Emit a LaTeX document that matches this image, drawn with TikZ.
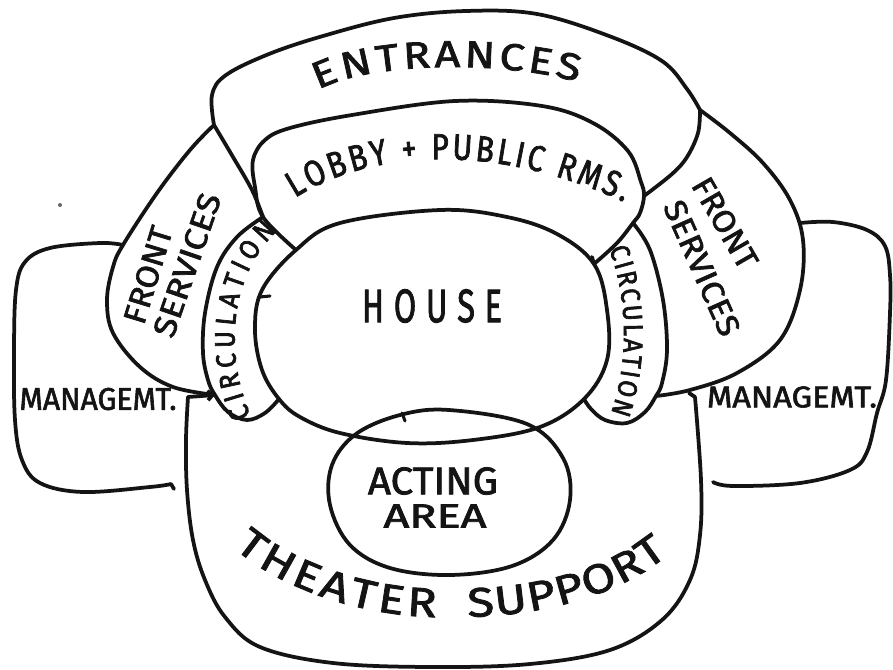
\documentclass[tikz,border=0pt]{standalone}
\usepackage{fontspec}
\usepackage{graphicx}
\usetikzlibrary{decorations.text,arrows.meta}
\newfontfamily\hand{Fira Sans}[FakeBold=2]
\newfontfamily\handw{Fira Sans}[FakeStretch=1.2,FakeBold=2]
\newfontfamily\handn{Fira Sans}[FakeStretch=0.82,FakeBold=2]
\newfontfamily\handc{Fira Sans}[FakeStretch=0.9,FakeBold=2.5]
\newlength\pxu
\setlength\pxu{0.03cm}
% label scaled to an exact width and cap height (in sketch pixels)
\newcommand\fitlbl[3]{\resizebox{#1\pxu}{#2\pxu}{\hand #3}}

\begin{document}
\begin{tikzpicture}[x=0.03cm,y=-0.03cm,
  pen/.style={line width=3.2pt,line cap=round,line join=round,draw=black!92},
  thinpen/.style={line width=2.6pt,line cap=round,draw=black!92},
  lbl/.style={inner sep=0pt,text=black!92},
  curved/.style={decorate,decoration={text along path,text align={fit to path},text color=black!92}}]
\fill[white] (0,0) rectangle (893,670);
\useasboundingbox (0,0) rectangle (893,670);

% junction points shared by neighbouring zones
\coordinate (EL) at (214,125);
\coordinate (ER) at (700,110);
\coordinate (J1) at (263,217);
\coordinate (J2) at (644,196);
\coordinate (J3) at (633,223);
\coordinate (HL) at (296,250);
\coordinate (HR) at (594,264);
\coordinate (CLB) at (279,399);
\coordinate (CRB) at (584,399);
\coordinate (FSL) at (215,395);
\coordinate (FSR) at (656,396);
\coordinate (ML) at (123,245);
\coordinate (TSL) at (188,397);
\coordinate (TSR) at (695,397);

% house
\draw[pen] plot[smooth cycle,tension=0.6] coordinates {(440,210) (507,217) (557,234) (HR) (607,310) (607,360) (CRB) (540,427) (473,440) (407,443) (340,433) (300,417) (CLB) (262,370) (255,330) (262,290) (HL) (340,223)};
\draw[thinpen] (260,297) -- (270,296);

% acting area
\draw[pen] plot[smooth cycle,tension=0.6] coordinates {(449,410) (527,424) (563,458) (570,500) (553,540) (512,566) (450,575) (390,568) (350,545) (330,505) (332,465) (356,434) (400,415)};
\draw[thinpen] (402,413) -- (405,421);

% entrances
\draw[pen] plot[smooth,tension=0.6] coordinates {(EL) (212,95) (226,75) (269,54) (323,36) (394,18) (466,11) (537,14) (609,36) (662,61) (687,89) (ER)};
\draw[pen] plot[smooth,tension=0.6] coordinates {(EL) (233,157) (252,190) (J1)};
\draw[pen] plot[smooth,tension=0.6] coordinates {(ER) (698,133) (687,157) (672,174) (J2)};

% lobby + public rooms
\draw[pen] plot[smooth,tension=0.6] coordinates {(HL) (J1) (255,187) (253,160) (265,140) (290,128) (352,115) (455,101) (542,106) (593,123) (628,151) (641,182) (J2) (640,213) (J3) (617,243) (HR)};
\draw[pen] (HR) -- ++(-2,-7);

% circulation, both sides
\draw[pen] plot[smooth,tension=0.6] coordinates {(J1) (237,237) (217,267) (205,313) (203,353) (208,380) (FSL) (228,412) (247,420) (265,413) (CLB)};
\draw[pen] plot[smooth,tension=0.6] coordinates {(J3) (650,250) (663,300) (667,350) (662,383) (FSR) (645,412) (627,423) (605,420) (591,409) (CRB)};

% front services, both sides
\draw[pen] plot[smooth,tension=0.6] coordinates {(EL) (190,150) (157,193) (ML) (113,267) (107,300) (113,333) (140,367) (173,387) (FSL)};
\draw[pen] plot[smooth,tension=0.6] coordinates {(ER) (730,133) (763,163) (790,200) (803,240) (800,290) (780,340) (737,373) (690,390) (FSR)};

% management, both sides
\draw[pen] plot[smooth,tension=0.6] coordinates {(ML) (100,243) (50,248) (25,262) (16,290) (14,350) (15,420) (22,460) (40,483) (83,492) (150,487) (171,484)} -- ++(3,5);
\draw[pen] plot[smooth,tension=0.6] coordinates {(800,223) (833,222) (867,230) (885,246) (890,275) (890,313) (886,380) (877,413) (867,452) (850,470) (800,483) (733,486) (713,482)};

% theater support
\draw[pen] plot[smooth,tension=0.6] coordinates {(TSL) (186,440) (187,490) (193,540) (205,580) (225,617) (260,647) (333,663) (433,667) (530,664) (610,650) (662,620) (690,580) (700,535) (701,480) (TSR)};
\draw[pen,-{Straight Barb[length=4pt,width=8pt]}] (TSL) -- (FSL);
\draw[pen] (TSR) -- ++(-6,-4);

% stray pen dot
\fill[black!60] (60,205) circle (2);

% labels
\path[curved,decoration={text={|\handw\fontsize{32}{32}\selectfont|ENTRANCES}}] (318,90) .. controls (370,62) and (500,60) .. (578,82);
\path[curved,decoration={text={|\handn\fontsize{31}{31}\selectfont|LOBBY + PUBLIC RMS.}}] (295,198) .. controls (360,156) and (480,136) .. (624,202);
\path[curved,decoration={text={|\handw\fontsize{35}{35}\selectfont|THEATER}}] (234,548) .. controls (280,588) and (360,616) .. (436,617);
\path[curved,decoration={text={|\handw\fontsize{35}{35}\selectfont|SUPPORT}}] (468,617) .. controls (540,615) and (615,598) .. (668,555);
\path[curved,decoration={text={|\handc\fontsize{24}{24}\selectfont|CIRCULATION}}] (251,416) .. controls (226,360) and (226,280) .. (277,231);
\path[curved,decoration={text={|\handc\fontsize{23}{23}\selectfont|CIRCULATION}}] (609,249) .. controls (627,295) and (630,360) .. (611,413);

\node[lbl] (house) at (432,306) {\fitlbl{140}{33}{H\kern.3em O\kern.3em U\kern.3em S\kern.3em E}};
\node[lbl] (act1) at (433,481) {\fitlbl{130}{27}{ACTING}};
\node[lbl] (act2) at (435,516) {\fitlbl{103}{23}{AREA}};
\node[lbl,rotate=73] (fsl1) at (148,275) {\fitlbl{100}{22}{FRONT}};
\node[lbl,rotate=71] (fsl2) at (187,265) {\fitlbl{150}{22}{SERVICES}};
\node[lbl,rotate=-60] (fsr1) at (725,223) {\fitlbl{100}{22}{FRONT}};
\node[lbl,rotate=-66] (fsr2) at (702,268) {\fitlbl{145}{22}{SERVICES}};
\node[lbl] (mgl) at (98,399) {\fitlbl{157}{22}{MANAGEMT.}};
\node[lbl] (mgr) at (792,397) {\fitlbl{170}{21}{MANAGEMT.}};
\end{tikzpicture}
\end{document}
